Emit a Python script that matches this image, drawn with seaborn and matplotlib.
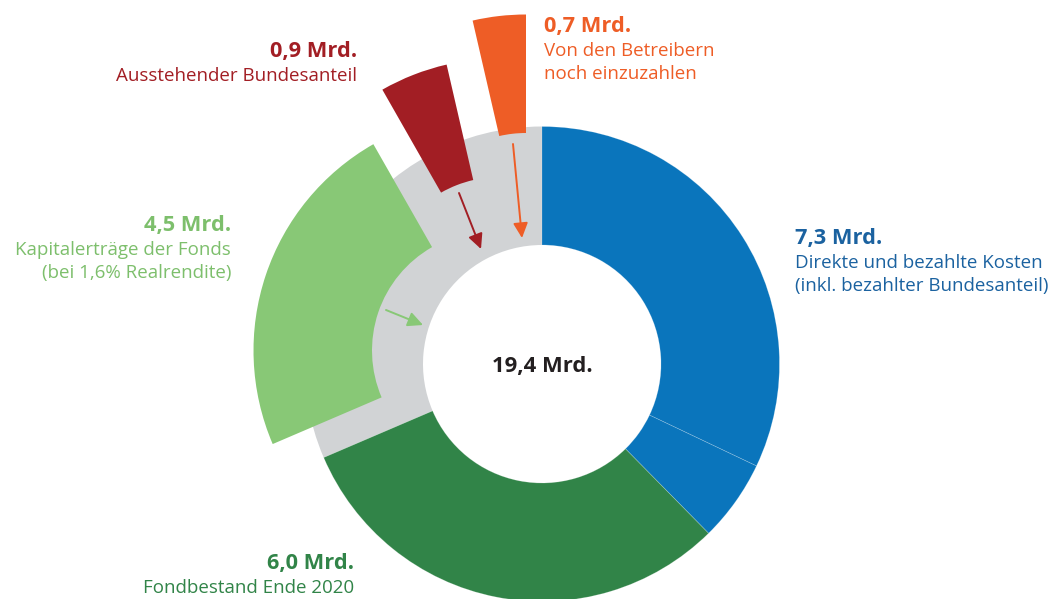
import matplotlib
matplotlib.use("Agg")
import matplotlib.pyplot as plt
import seaborn as sns

# ---- data ----
segment_names = ["Direkte Kosten", "Bezahlter Bundesanteil", "Fondbestand Ende 2020",
                 "Kapitalerträge der Fonds", "Ausstehender Bundesanteil",
                 "Von den Betreibern noch einzuzahlen"]
segment_values = [6.22, 1.08, 6.0, 4.5, 0.9, 0.7]
total_label = "19,4 Mrd."

label_values = ["7,3 Mrd.", "6,0 Mrd.", "4,5 Mrd.", "0,9 Mrd.", "0,7 Mrd."]
label_texts = [
    ["Direkte und bezahlte Kosten", "(inkl. bezahlter Bundesanteil)"],
    ["Fondbestand Ende 2020"],
    ["Kapitalerträge der Fonds", "(bei 1,6% Realrendite)"],
    ["Ausstehender Bundesanteil"],
    ["Von den Betreibern", "noch einzuzahlen"],
]

# ---- style ----
sns.set_theme(style="white")
plt.rcParams["font.family"] = ["Open Sans", "DejaVu Sans"]

BLUE = "#0a75bc"
BLUE_TXT = "#1b62a0"
DGREEN = "#318448"
LGREEN = "#88c876"
LGREEN_TXT = "#7dbf6c"
DRED = "#a21e24"
ORANGE = "#ee5d26"
GRAY = "#d1d3d5"
BLACK = "#231f20"

W, H = 1060, 599
fig = plt.figure(figsize=(W / 100, H / 100), dpi=100)
ax = fig.add_axes([0, 0, 1, 1])

cx, cy = 542, H - 364
R_OUT, R_IN = 237.5, 119

seg_colors = [BLUE, BLUE, DGREEN, LGREEN, DRED, ORANGE]

# gray background ring under the exploded (outstanding) segments
paid = sum(segment_values[:3])
outstanding = sum(segment_values[3:])
ax.pie([paid, outstanding], startangle=90, counterclock=False, center=(cx, cy),
       radius=R_OUT, colors=["none", GRAY],
       wedgeprops=dict(width=R_OUT - R_IN, linewidth=0, zorder=1))

wedges, _ = ax.pie(segment_values, startangle=90, counterclock=False, center=(cx, cy),
                   radius=R_OUT, colors=seg_colors,
                   wedgeprops=dict(width=R_OUT - R_IN, linewidth=0.5,
                                   edgecolor=(1, 1, 1, 0.25), zorder=2))

# explode the last three segments outward (offsets in px)
offsets = {3: (-51, 13.5), 4: (-42, 68), 5: (-16, 112)}
for i, (dx, dy) in offsets.items():
    wedges[i].set_center((cx + dx, cy + dy))
    wedges[i].set_edgecolor("none")
    wedges[i].set_linewidth(0)
    wedges[i].set_zorder(3)

ax.set_xlim(0, W)
ax.set_ylim(0, H)
ax.set_aspect("equal")
ax.axis("off")


def Y(py):
    return H - py


# arrows
arrow_kw = dict(arrowstyle="-|>,head_length=0.45,head_width=0.22", mutation_scale=20,
                lw=1.4, shrinkA=0, shrinkB=0)
ax.annotate("", xy=(522, Y(238)), xytext=(513, Y(144)),
            arrowprops=dict(color=ORANGE, **arrow_kw), zorder=5)
ax.annotate("", xy=(481, Y(249)), xytext=(459, Y(193)),
            arrowprops=dict(color=DRED, **arrow_kw), zorder=5)
ax.annotate("", xy=(423, Y(325)), xytext=(386, Y(310)),
            arrowprops=dict(color=LGREEN, **arrow_kw), zorder=5)

BOLD = 15.7
REG = 13.5

# labels: (x, first baseline, alignment, color)
label_pos = [
    (795, 244, "left", BLUE_TXT),
    (354, 569, "right", DGREEN),
    (231, 231, "right", LGREEN_TXT),
    (357, 57, "right", DRED),
    (544, 32, "left", ORANGE),
]
for (x, y0, ha, col), val, lines in zip(label_pos, label_values, label_texts):
    ax.text(x, Y(y0), val, ha=ha, va="baseline", color=col,
            fontsize=BOLD, fontweight="bold")
    for k, line in enumerate(lines):
        ax.text(x, Y(y0 + 24 + 23 * k), line, ha=ha, va="baseline", color=col,
                fontsize=REG)

ax.text(cx, Y(372), total_label, ha="center", va="baseline", color=BLACK,
        fontsize=15.8, fontweight="bold")

fig.savefig("out.png", dpi=100)
